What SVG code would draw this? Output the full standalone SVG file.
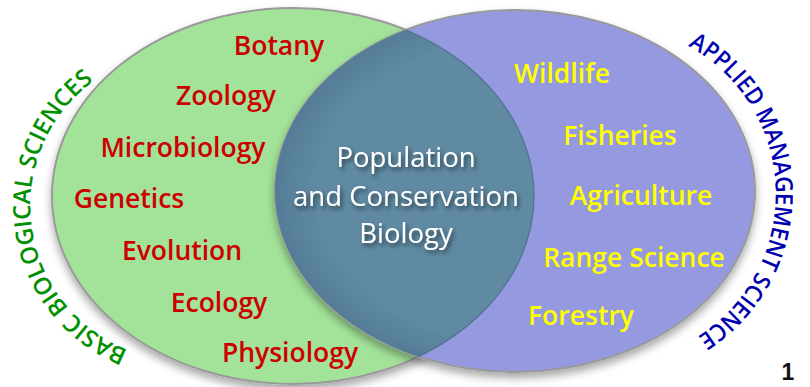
<svg xmlns="http://www.w3.org/2000/svg" width="810" height="387" viewBox="0 0 810 387">
<defs>
<style>
.item{font-family:"Open Sans","Noto Sans",sans-serif;font-weight:600;font-size:26.5px;text-anchor:middle}
.red{fill:#cc0000}
.yel{fill:#ffff00}
.ctr{font-family:"Open Sans","Noto Sans",sans-serif;font-weight:500;font-size:27.5px;fill:#ffffff;text-anchor:middle}
.arc{font-family:"Open Sans","Noto Sans",sans-serif;font-weight:600;font-size:24px}
</style>
<filter id="shadow" x="-10%" y="-10%" width="120%" height="125%">
<feDropShadow dx="0" dy="5" stdDeviation="4" flood-color="#000" flood-opacity="0.35"/>
</filter>
<filter id="tshadow" x="-10%" y="-20%" width="130%" height="160%">
<feDropShadow dx="2" dy="3" stdDeviation="2" flood-color="#000" flood-opacity="0.55"/>
</filter>
<clipPath id="clipGreen"><ellipse cx="293" cy="196" rx="241" ry="188"/></clipPath>
<clipPath id="clipBlue"><ellipse cx="515" cy="191" rx="240" ry="181"/></clipPath>
<radialGradient id="ovl" cx="50%" cy="50%" r="55%">
<stop offset="0.75" stop-color="#5f8aa2"/>
<stop offset="1" stop-color="#4f7490"/>
</radialGradient>
<path id="arcL" d="M128,350 A155,155 0 0 1 95,80"/>
<path id="arcR" d="M688,46 A169,169 0 0 1 692,340"/>
</defs>
<rect width="810" height="387" fill="#ffffff"/>
<g id="basic-biological-sciences">
<ellipse cx="293" cy="196" rx="241" ry="188" fill="#a3e399" stroke="#9a9a9a" stroke-width="2" filter="url(#shadow)"/>
</g>
<g id="applied-management-science">
<ellipse cx="515" cy="191" rx="240" ry="181" fill="#9599e0" stroke="#9a9a9a" stroke-width="2" filter="url(#shadow)"/>
</g>
<g id="overlap">
<ellipse cx="515" cy="191" rx="240" ry="181" fill="url(#ovl)" clip-path="url(#clipGreen)"/>
<ellipse cx="293" cy="196" rx="241" ry="188" fill="none" stroke="#4d7390" stroke-width="1.2" clip-path="url(#clipBlue)"/>
</g>
<g id="basic-items">
<text class="item red" x="279" y="55">Botany</text>
<text class="item red" x="226" y="105">Zoology</text>
<text class="item red" x="183" y="157">Microbiology</text>
<text class="item red" x="129" y="208">Genetics</text>
<text class="item red" x="182" y="260">Evolution</text>
<text class="item red" x="219" y="312">Ecology</text>
<text class="item red" x="290" y="362">Physiology</text>
</g>
<g id="applied-items">
<text class="item yel" x="562" y="83">Wildlife</text>
<text class="item yel" x="620" y="145">Fisheries</text>
<text class="item yel" x="641" y="205">Agriculture</text>
<text class="item yel" x="634" y="267">Range Science</text>
<text class="item yel" x="581" y="325">Forestry</text>
</g>
<g id="population-conservation-biology" filter="url(#tshadow)">
<text class="ctr" x="406" y="167">Population</text>
<text class="ctr" x="406" y="206">and Conservation</text>
<text class="ctr" x="406" y="243">Biology</text>
</g>
<g id="label-basic">
<text class="arc" fill="#009000"><textPath href="#arcL" textLength="330" lengthAdjust="spacingAndGlyphs">BASIC BIOLOGICAL SCIENCES</textPath></text>
</g>
<g id="label-applied">
<text class="arc" fill="#0000b0"><textPath href="#arcR" textLength="350" lengthAdjust="spacingAndGlyphs">APPLIED MANAGEMENT SCIENCE</textPath></text>
</g>
<g id="page-number">
<text x="788" y="380" font-family="Liberation Sans, Arial, sans-serif" font-weight="700" font-size="23" fill="#111" text-anchor="middle">1</text>
</g>
</svg>
